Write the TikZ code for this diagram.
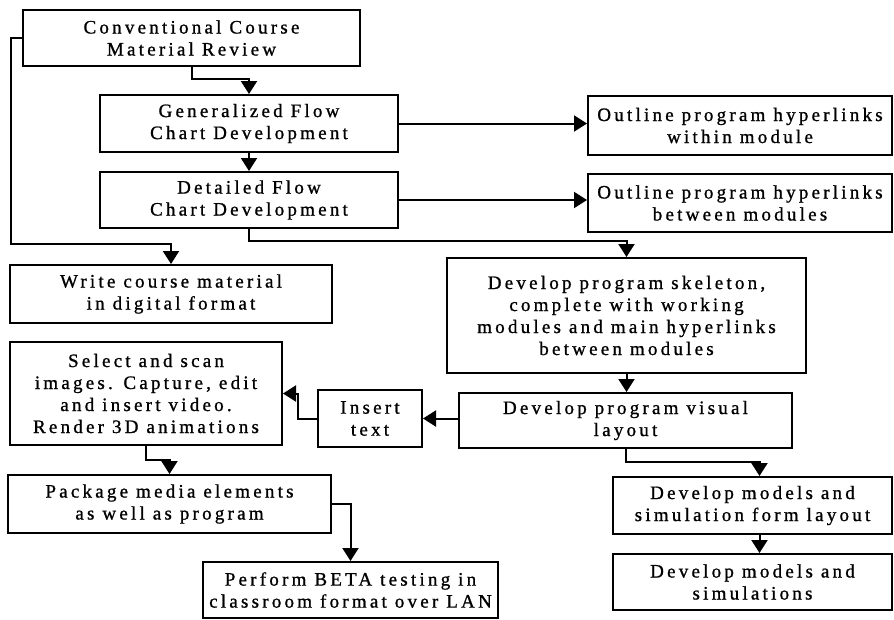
\documentclass[tikz,border=0pt]{standalone}
\usepackage{fontspec}
\setmainfont{Liberation Serif}[LetterSpace=17,FakeBold=1]
\usetikzlibrary{arrows.meta}
\begin{document}
\begin{tikzpicture}[x=1pt,y=-1pt,
  box/.style={draw,line width=2pt,inner sep=0pt,align=center,
    font=\fontsize{19}{22}\selectfont},
  link/.style={line width=2pt},
  arr/.style={link,-{Triangle[length=13pt,width=16pt]}}]
\useasboundingbox (0,0) rectangle (894,619);
% process boxes: centre, width, height
\node[box,minimum width=337pt,minimum height=56pt] (A) at (191.5,38) {Conventional Course\\Material Review};
\node[box,minimum width=298pt,minimum height=57pt] (B) at (249,123.5) {Generalized Flow\\Chart Development};
\node[box,minimum width=298pt,minimum height=56pt] (C) at (249,200) {Detailed Flow\\Chart Development};
\node[box,minimum width=322pt,minimum height=58pt] (D) at (171,294) {Write course material\\in digital format};
\node[box,minimum width=304pt,minimum height=59pt] (E) at (740,125.5) {Outline program hyperlinks\\within module};
\node[box,minimum width=304pt,minimum height=58pt] (F) at (740,203) {Outline program hyperlinks\\between modules};
\node[box,minimum width=359pt,minimum height=115pt] (G) at (626.5,315.5) {Develop program skeleton,\\complete with working\\modules and main hyperlinks\\between modules};
\node[box,minimum width=333pt,minimum height=55pt] (H) at (625.5,420.5) {Develop program visual\\layout};
\node[box,minimum width=104pt,minimum height=57pt] (I) at (370,418.5) {Insert\\text};
\node[box,minimum width=272pt,minimum height=103pt] (J) at (146,393.5) {Select and scan\\images. Capture, edit\\and insert video.\\Render 3D animations};
\node[box,minimum width=323pt,minimum height=58pt] (K) at (169.5,504) {Package media elements\\as well as program};
\node[box,minimum width=295pt,minimum height=56pt] (L) at (350.5,590) {Perform BETA testing in\\classroom format over LAN};
\node[box,minimum width=279pt,minimum height=57pt] (M) at (752.5,505.5) {Develop models and\\simulation form layout};
\node[box,minimum width=279pt,minimum height=56pt] (N) at (752.5,582) {Develop models and\\simulations};
% connectors
\draw[arr] (A.south) |- ([yshift=15pt]B.north) -- (B.north);
\draw[arr] (B.south) -- (C.north);
\draw[arr] (B.east) -- (B.east -| E.west);
\draw[arr] (C.east) -- (C.east -| F.west);
\draw[arr] (C.south) |- ([yshift=16pt]G.north) -- (G.north);
\draw[arr] (A.west) -- ++(-11pt,0) |- ([yshift=20pt]D.north) -- (D.north);
\draw[arr] (G.south) -- (G.south |- H.north);
\draw[arr] (H.west |- I.east) -- (I.east);
\draw[arr] (I.west) -- ++(-19pt,0) |- (J.east);
\draw[arr] (J.south) |- ([yshift=14pt]K.north) -- (K.north);
\draw[arr] (K.east) -| (L.north);
\draw[arr] (H.south) |- ([xshift=7pt,yshift=14pt]M.north) -- ([xshift=7pt]M.north);
\draw[arr] ([xshift=7pt]M.south) -- ([xshift=7pt]N.north);
\end{tikzpicture}
\end{document}
